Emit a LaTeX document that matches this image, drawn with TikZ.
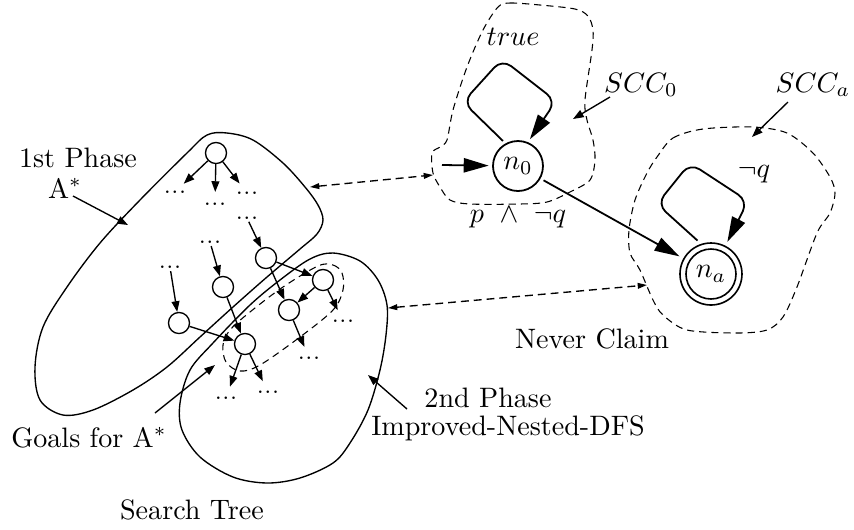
\documentclass[tikz,border=0pt]{standalone}
\usetikzlibrary{arrows.meta}
\newcommand\tz[1]{\scalebox{0.787}{#1}}
\begin{document}
\begin{tikzpicture}[x=0.28pt,y=-0.28pt,
  line width=0.38pt,
  tnode/.style={draw,circle,minimum size=5.9pt,inner sep=0pt},
  dotsn/.style={circle,inner sep=0pt,minimum size=6.2pt,font=\fontsize{6}{7}\selectfont},
  tarrow/.style={-{Triangle[length=3pt,width=2.2pt]}},
  txt/.style={font=\fontsize{10}{12}\selectfont,anchor=base,inner sep=0pt},
  bigarrow/.style={line width=0.5pt,-{Triangle[length=7pt,width=4pt]}},
  dasharrow/.style={dash pattern=on 2.2pt off 1.4pt,{Triangle[length=2.6pt,width=1.6pt]}-{Triangle[length=2.6pt,width=1.6pt]}},
  sccline/.style={line width=0.3pt,dash pattern=on 2pt off 1.4pt},
  blob/.style={line width=0.38pt},
  stnode/.style={draw,circle,line width=0.5pt,minimum size=14pt,inner sep=0pt,
      font=\fontsize{10}{12}\selectfont},
]
\path[use as bounding box] (0,0) rectangle (854,529);

% ---------- blobs ----------
\draw[blob] plot[smooth cycle,tension=0.55] coordinates {
 (187,153) (207,135) (227,133) (253,140) (283,163) (305,187) (318,205)
 (323,220) (317,234) (300,249) (267,277) (233,307) (200,337) (167,367)
 (133,390) (93,410) (63,415) (40,400) (35,367) (43,327) (67,287) (100,243)
 (140,200)};
\draw[blob] plot[smooth cycle,tension=0.55] coordinates {
 (333,253) (360,261) (378,280) (387,305) (386,335) (380,370) (368,410)
 (350,443) (333,463) (300,478) (267,483) (233,477) (200,457) (182,430)
 (180,403) (190,370) (213,343) (250,305) (280,280) (310,259)};
\draw[sccline] plot[smooth cycle,tension=0.55] coordinates {
 (318,266) (333,265) (342,273) (343,290) (333,310) (300,337) (260,365)
 (240,371) (226,362) (223,345) (230,330) (250,312) (283,287)};

% ---------- tree ----------
\node[tnode] (r) at (216,153) {};
\node[tnode] (a) at (266,258) {};
\node[tnode] (b) at (223,287) {};
\node[tnode] (c) at (179,323) {};
\node[tnode] (d) at (245,344) {};
\node[tnode] (e) at (289,310) {};
\node[tnode] (f) at (323,280) {};

\node[dotsn] (r1) at (175,192) {...};
\node[dotsn] (r2) at (215,204) {...};
\node[dotsn] (r3) at (247,193) {...};
\node[dotsn] (da) at (247,218) {...};
\node[dotsn] (db) at (210,242) {...};
\node[dotsn] (dc) at (170,267) {...};
\node[dotsn] (df) at (343,321) {...};
\node[dotsn] (de) at (309,358) {...};
\node[dotsn] (dd1) at (226,398) {...};
\node[dotsn] (dd2) at (268,392) {...};

\draw[tarrow] (r) -- (r1);
\draw[tarrow] (r) -- (r2);
\draw[tarrow] (r) -- (r3);
\draw[tarrow,shorten <=-2.2pt] (da) -- (a);
\draw[tarrow,shorten <=-2.2pt] (db) -- (b);
\draw[tarrow,shorten <=-2.2pt] (dc) -- (c);
\draw[tarrow] (a) -- (e);
\draw[tarrow] (a) -- (f);
\draw[tarrow] (b) -- (d);
\draw[tarrow] (c) -- (d);
\draw[tarrow] (f) -- (e);
\draw[tarrow] (f) -- (df);
\draw[tarrow] (e) -- (de);
\draw[tarrow] (d) -- (dd1);
\draw[tarrow] (d) -- (dd2);

% ---------- left labels ----------
\node[txt] (l1) at (78,167) {\tz{1st Phase}};
\node[txt] (l2) at (65,198) {\tz{A$^*$}};
\coordinate (l2s) at (73,196);
\coordinate (l2e) at (128,225);
\draw[tarrow] (l2s) -- (l2e);

\node[txt] (lg) at (89,447) {\tz{Goals for A$^*$}};
\coordinate (lgs) at (155,413);
\coordinate (lge) at (215,365);
\draw[tarrow] (lgs) -- (lge);

\node[txt] (ls) at (192,519) {\tz{Search Tree}};

\node[txt] (l3) at (488,407) {\tz{2nd Phase}};
\node[txt] (l4) at (508,435) {\tz{Improved-Nested-DFS}};
\coordinate (l3s) at (407,409);
\coordinate (l3e) at (368,375);
\draw[tarrow] (l3s) -- (l3e);

% ---------- never claim ----------
\draw[sccline] plot[smooth cycle,tension=0.5] coordinates {
 (498,7) (510,3) (540,5) (575,9) (588,16) (593,30) (592,50) (585,100)
 (587,120) (593,140) (595,160) (590,180) (570,192) (547,202) (520,204)
 (470,204) (450,200) (440,187) (433,173) (432,153) (440,147) (447,140)
 (453,110) (467,67) (483,30)};
\draw[sccline] plot[smooth cycle,tension=0.5] coordinates {
 (657,157) (673,138) (703,129) (753,127) (787,133) (813,153) (830,177)
 (835,193) (830,213) (817,233) (797,287) (783,317) (767,330) (737,333)
 (687,330) (663,315) (653,300) (640,270) (630,253) (629,230) (635,200)
 (647,173)};

\node[stnode,outer sep=1.2pt] (n0) at (518,166) {\tz{$n_0$}};
\node[stnode,line width=0.45pt,outer sep=3.1pt] (na) at (711,274) {\tz{$n_a$}};
\draw[line width=0.45pt] (na.center) circle[radius=31];

\coordinate (init) at (442,165);
\draw[bigarrow] (init) -- (n0);
\draw[bigarrow] (n0) -- (na);
\draw[bigarrow,rounded corners=3.2pt] (n0.121) -- (463,102) -- (502,59) -- (556,101) -- (n0.66);
\draw[bigarrow,rounded corners=3.2pt] (na.112) -- (657,204) -- (690,163) -- (748,201) -- (na.63);

\node[txt] (lt) at (513,45) {\tz{$true$}};
\node[txt] (lp) at (518,222) {\tz{$p\ \wedge\ \neg q$}};
\node[txt] (lq) at (754,177) {\tz{$\neg q$}};
\node[txt] (ls0) at (641,92) {\tz{$SCC_0$}};
\node[txt] (lsa) at (813,92) {\tz{$SCC_a$}};
\coordinate (s0s) at (610,97);
\coordinate (s0e) at (573,119);
\draw[tarrow] (s0s) -- (s0e);
\coordinate (sas) at (788,102);
\coordinate (sae) at (752,137);
\draw[tarrow] (sas) -- (sae);

\node[txt] (lnc) at (592,348) {\tz{Never Claim}};

\coordinate (p1) at (310,187);
\coordinate (q1) at (433,175);
\draw[dasharrow] (p1) -- (q1);
\coordinate (p2) at (388,308);
\coordinate (q2) at (647,285);
\draw[dasharrow] (p2) -- (q2);
\end{tikzpicture}
\end{document}
